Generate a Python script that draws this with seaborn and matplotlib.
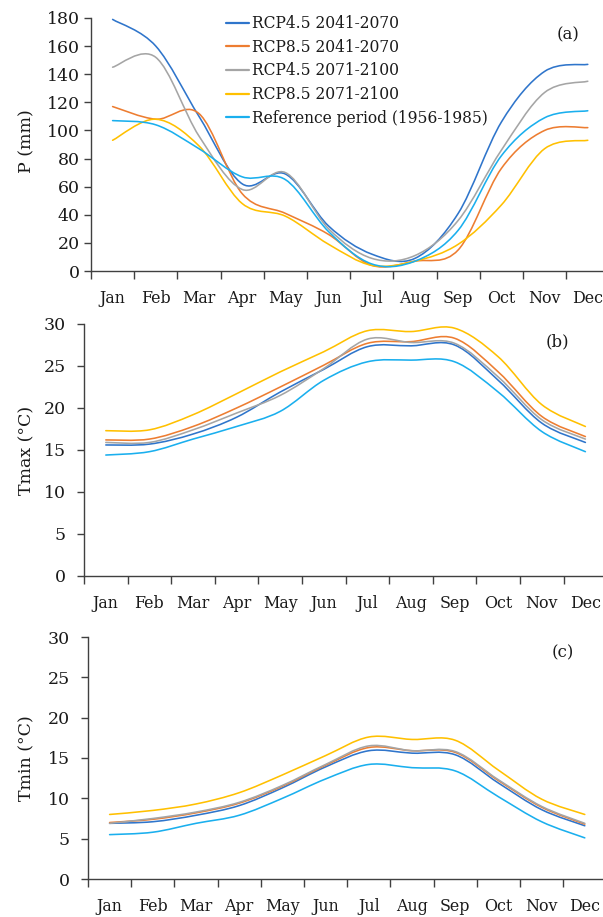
import numpy as np
import pandas as pd
import matplotlib
matplotlib.use("Agg")
import matplotlib.pyplot as plt
from matplotlib.path import Path
from matplotlib.patches import PathPatch
from matplotlib.lines import Line2D
import seaborn as sns

# ---------------- data ----------------
months = ["Jan", "Feb", "Mar", "Apr", "May", "Jun",
          "Jul", "Aug", "Sep", "Oct", "Nov", "Dec"]
series_names = ["RCP4.5 2041-2070", "RCP8.5 2041-2070", "RCP4.5 2071-2100",
                "RCP8.5 2071-2100", "Reference period (1956-1985)"]
series_colors = ["#2F75CB", "#ED7D31", "#A5A5A5", "#FFC000", "#1AAFEE"]

# (a) precipitation, mm
p_rcp45_2041 = [179, 160, 110, 62, 69, 32, 12, 9, 41, 106, 142, 147]
p_rcp85_2041 = [117, 108, 112, 55, 41, 26, 4, 7, 15, 73, 100, 102]
p_rcp45_2071 = [145, 152, 96, 58, 70, 30, 9, 11, 36, 86, 127, 135]
p_rcp85_2071 = [93, 108, 89, 48, 39, 19, 4, 7, 19, 47, 87, 93]
p_reference = [107, 104, 87, 67, 65, 28, 5, 7, 29, 82, 109, 114]

# (b) Tmax, degC
tmax_rcp45_2041 = [15.6, 15.7, 16.9, 18.9, 21.9, 24.6, 27.3, 27.4, 27.5, 23.3, 18.2, 15.9]
tmax_rcp85_2041 = [16.2, 16.3, 17.8, 20.0, 22.5, 25.1, 27.7, 27.9, 28.3, 24.3, 19.0, 16.6]
tmax_rcp45_2071 = [15.9, 15.9, 17.4, 19.4, 21.5, 24.7, 28.2, 27.8, 27.7, 23.7, 18.6, 16.3]
tmax_rcp85_2071 = [17.3, 17.4, 19.2, 21.7, 24.3, 26.7, 29.2, 29.1, 29.5, 26.1, 20.4, 17.8]
tmax_reference = [14.4, 14.8, 16.3, 17.8, 19.6, 23.3, 25.5, 25.7, 25.5, 21.9, 17.2, 14.8]

# (c) Tmin, degC
tmin_rcp45_2041 = [6.9, 7.1, 7.9, 9.1, 11.3, 13.9, 15.9, 15.6, 15.4, 11.9, 8.6, 6.6]
tmin_rcp85_2041 = [7.0, 7.4, 8.2, 9.4, 11.5, 14.1, 16.3, 15.9, 15.7, 12.2, 8.9, 6.8]
tmin_rcp45_2071 = [6.9, 7.5, 8.3, 9.5, 11.6, 14.2, 16.5, 15.9, 15.8, 12.3, 9.0, 6.9]
tmin_rcp85_2071 = [8.0, 8.5, 9.3, 10.7, 12.9, 15.3, 17.6, 17.3, 17.2, 13.5, 9.9, 8.0]
tmin_reference = [5.5, 5.8, 6.9, 7.9, 10.0, 12.4, 14.2, 13.8, 13.4, 10.2, 7.1, 5.1]

p_ticks = [0, 20, 40, 60, 80, 100, 120, 140, 160, 180]
t_ticks = [0, 5, 10, 15, 20, 25, 30]

# ---------------- style ----------------
sns.set_style("ticks")
plt.rcParams["font.family"] = ["DejaVu Serif"]
plt.rcParams["font.size"] = 12
TEXT = "#1a1a1a"
SPINE = "#404040"

W, H = 603, 917
fig = plt.figure(figsize=(W / 100, H / 100), dpi=100)


def frame(df_series):
    rows = []
    for name, vals in zip(series_names, df_series):
        for i, v in enumerate(vals):
            rows.append({"month": i, "value": v, "series": name})
    return pd.DataFrame(rows)


def smooth_lines(ax):
    """Replace seaborn's polylines by smoothed (Bezier) curves through the same points."""
    for line in list(ax.lines):
        x = np.asarray(line.get_xdata(), float)
        y = np.asarray(line.get_ydata(), float)
        n = len(x)
        if n < 3:
            continue
        pts = np.column_stack([x, y])
        verts = [pts[0]]
        codes = [Path.MOVETO]
        for i in range(n - 1):
            p0 = pts[i - 1] if i > 0 else pts[i]
            p1 = pts[i]
            p2 = pts[i + 1]
            p3 = pts[i + 2] if i + 2 < n else pts[i + 1]
            c1 = p1 + (p2 - p0) / 6.0
            c2 = p2 - (p3 - p1) / 6.0
            verts += [c1, c2, p2]
            codes += [Path.CURVE4] * 3
        patch = PathPatch(Path(verts, codes), facecolor="none",
                          edgecolor=line.get_color(), lw=line.get_linewidth(),
                          capstyle="round", joinstyle="round",
                          zorder=line.get_zorder(), transform=ax.transData)
        ax.add_patch(patch)
        line.set_visible(False)


def panel(rect, data, yticks, ylim, ylabel, tag, tag_xy, ytick_pad, ylabel_y):
    ax = fig.add_axes(rect)
    df = frame(data)
    sns.lineplot(data=df, x="month", y="value", hue="series",
                 palette=dict(zip(series_names, series_colors)),
                 hue_order=series_names, linewidth=1.15, legend=False, ax=ax,
                 estimator=None, sort=False)
    smooth_lines(ax)
    ax.set_xlim(-0.5, 11.5)
    ax.set_ylim(*ylim)
    ax.set_yticks(yticks)
    ax.set_yticklabels([str(t) for t in yticks])
    # boundaries as tick marks, month names centred between them
    ax.set_xticks(np.arange(-0.5, 12.0, 1.0))
    ax.set_xticklabels([])
    ax.set_xticks(np.arange(12), minor=True)
    ax.set_xticklabels(months, minor=True)
    ax.tick_params(axis="x", which="major", length=6, width=1, color=SPINE,
                   direction="out")
    ax.tick_params(axis="x", which="minor", length=0, pad=14, labelsize=11.4,
                   labelcolor=TEXT)
    ax.tick_params(axis="y", length=5, width=1, color=SPINE, direction="out",
                   pad=ytick_pad, labelsize=12.5, labelcolor=TEXT)
    for s in ["top", "right"]:
        ax.spines[s].set_visible(False)
    for s in ["left", "bottom"]:
        ax.spines[s].set_color(SPINE)
        ax.spines[s].set_linewidth(1.0)
    ax.set_xlabel("")
    ax.set_ylabel(ylabel, fontsize=12.5, color=TEXT)
    ax.yaxis.set_label_coords(35 / W, ylabel_y, transform=fig.transFigure)
    fig.text(tag_xy[0] / W, 1 - tag_xy[1] / H, tag, ha="center", va="center",
             fontsize=12, color=TEXT)
    return ax


def rect_px(left, top, bottom, width):
    return [left / W, 1 - bottom / H, width / W, (bottom - top) / H]


ax_a = panel(rect_px(91, 18, 271, 12 * 43.2),
             [p_rcp45_2041, p_rcp85_2041, p_rcp45_2071, p_rcp85_2071, p_reference],
             p_ticks, (0, 180), "P (mm)", "(a)", (568, 35), 3,
             1 - 141 / H)
ax_b = panel(rect_px(84, 324, 576, 12 * 43.6),
             [tmax_rcp45_2041, tmax_rcp85_2041, tmax_rcp45_2071, tmax_rcp85_2071, tmax_reference],
             t_ticks, (0, 30), "Tmax (°C)", "(b)", (557, 342), 8,
             1 - 450 / H)
ax_c = panel(rect_px(88, 637, 879, 12 * 43.2),
             [tmin_rcp45_2041, tmin_rcp85_2041, tmin_rcp45_2071, tmin_rcp85_2071, tmin_reference],
             t_ticks, (0, 30), "Tmin (°C)", "(c)", (563, 653), 8,
             1 - 758 / H)

handles = [Line2D([], [], color=c, lw=1.6) for c in series_colors]
ax_a.legend(handles, series_names, loc="upper left",
            bbox_to_anchor=(226 / W, 1 - 15 / H), bbox_transform=fig.transFigure,
            frameon=False, fontsize=11.2, handlelength=1.45, handletextpad=0.2,
            labelspacing=0.43, borderpad=0, borderaxespad=0, labelcolor=TEXT)

fig.savefig("out.png", dpi=100)
